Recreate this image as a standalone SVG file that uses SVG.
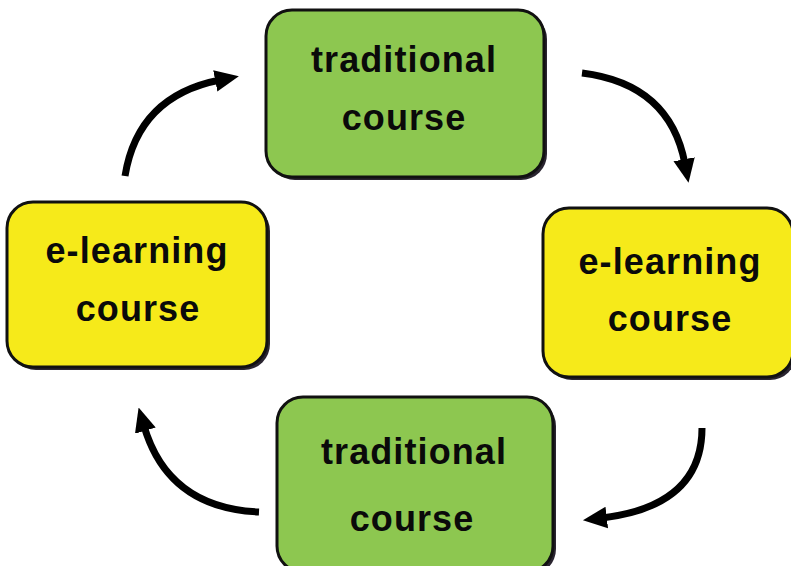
<svg xmlns="http://www.w3.org/2000/svg" width="791" height="566" viewBox="0 0 791 566">
<defs>
<marker id="ah" markerUnits="userSpaceOnUse" markerWidth="24" markerHeight="24" viewBox="0 0 20 20" refX="4" refY="10" orient="auto">
<path d="M0,1 L20,10 L0,19 Z" fill="#000"/>
</marker>
</defs>
<style>
.box{stroke:#111;stroke-width:3}
.green{fill:#8DC750}
.yellow{fill:#F6EA1A}
.shadow{fill:#2a2530}
.lbl{font-family:"Liberation Sans",Arial,sans-serif;font-weight:bold;font-size:36px;fill:#0a0a0a;text-anchor:middle;letter-spacing:1.1px}
.arr{fill:none;stroke:#000;stroke-width:7;marker-end:url(#ah)}
</style>
<rect width="791" height="566" fill="#fff"/>
<g id="top-traditional">
<rect class="shadow" x="269" y="13" width="278" height="167" rx="26"/>
<rect class="box green" x="266" y="10" width="278" height="167" rx="26"/>
<text class="lbl" x="404" y="72">traditional</text>
<text class="lbl" x="404" y="130">course</text>
</g>
<g id="left-elearning">
<rect class="shadow" x="10" y="205" width="260" height="165" rx="26"/>
<rect class="box yellow" x="7" y="202" width="260" height="165" rx="26"/>
<text class="lbl" x="137" y="263">e-learning</text>
<text class="lbl" x="138" y="321">course</text>
</g>
<g id="right-elearning">
<rect class="shadow" x="546" y="211" width="250" height="169" rx="26"/>
<rect class="box yellow" x="543" y="208" width="250" height="169" rx="26"/>
<text class="lbl" x="670" y="274">e-learning</text>
<text class="lbl" x="670" y="331">course</text>
</g>
<g id="bottom-traditional">
<rect class="shadow" x="280" y="400" width="276" height="175" rx="26"/>
<rect class="box green" x="277" y="397" width="276" height="175" rx="26"/>
<text class="lbl" x="414" y="464">traditional</text>
<text class="lbl" x="412" y="531">course</text>
</g>
<g id="connectors">
<path class="arr" d="M125,176 Q138,96 220,80"/>
<path class="arr" d="M582,73 Q670,84 685,164"/>
<path class="arr" d="M259,512 Q168,508 144,426"/>
<path class="arr" d="M702,428 Q702,506 602,518"/>
</g>
</svg>
